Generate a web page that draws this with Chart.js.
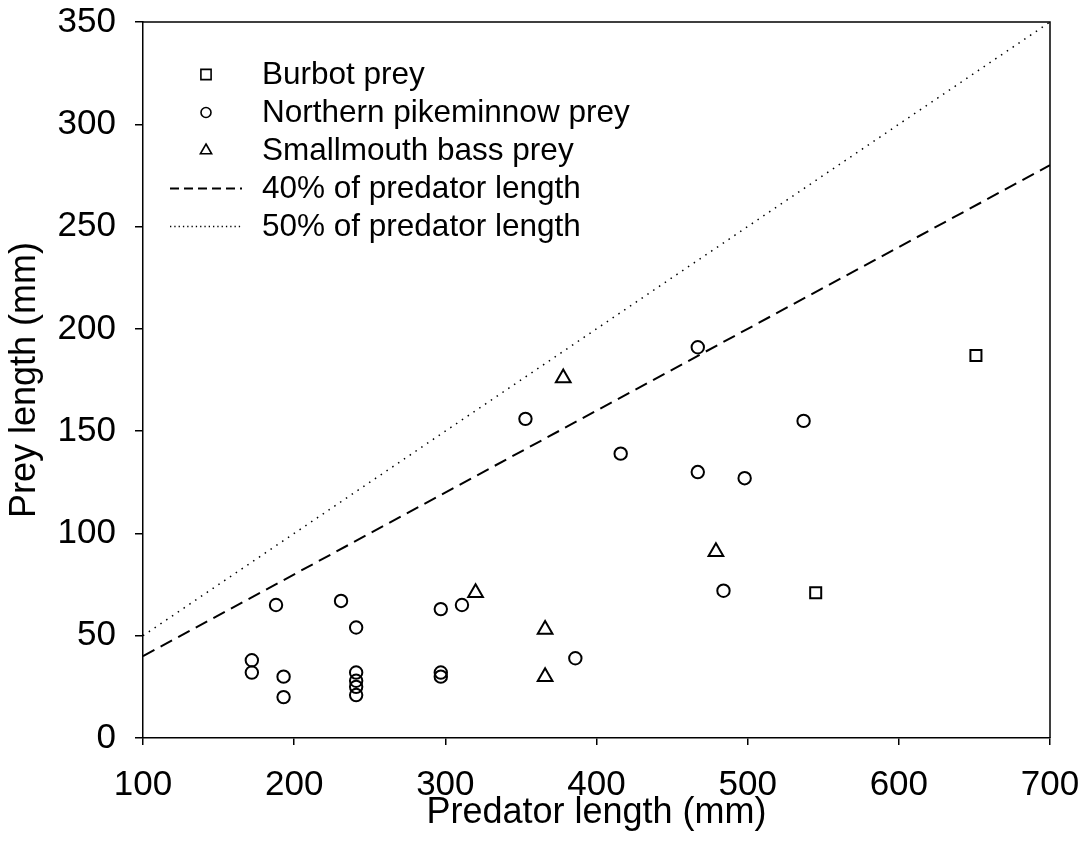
<!DOCTYPE html>
<html>
<head>
<meta charset="utf-8">
<script src="https://cdn.jsdelivr.net/npm/chart.js@4"></script>
<style>
  html, body { margin: 0; padding: 0; background: #fff; }
  canvas { display: block; }
</style>
</head>
<body>
<canvas id="chart" width="1084" height="859"></canvas>
<script>
// --- data ---
const burbotX = [545, 651];
const burbotY = [71, 187];

const pikeX = [172, 172, 188, 193, 193, 231, 241, 241, 241, 241, 241, 297, 297, 297, 311, 353, 386, 416, 467, 467, 484, 498, 537];
const pikeY = [32, 38, 65, 30, 20, 67, 54, 32, 28, 25, 21, 63, 32, 30, 65, 156, 39, 139, 191, 130, 72, 127, 155];

const bassX = [320, 366, 366, 378, 479];
const bassY = [71, 53, 30, 176, 91];

const refX = [100, 700];
const ref40 = [40, 280];
const ref50 = [50, 350];

const xTicks = [100, 200, 300, 400, 500, 600, 700];
const yTicks = [0, 50, 100, 150, 200, 250, 300, 350];

const FONT = "'Liberation Sans', Arial, sans-serif";

function pts(xs, ys) {
  return xs.map((x, i) => ({ x: x, y: ys[i] }));
}

// legend inside the plot + top/right frame
const framePlugin = {
  id: 'frame',
  afterDraw(chart) {
    const { ctx, chartArea: a } = chart;
    ctx.save();
    ctx.strokeStyle = '#000';
    ctx.lineWidth = 1.5;
    ctx.beginPath();
    ctx.moveTo(a.left, a.top);
    ctx.lineTo(a.right, a.top);
    ctx.lineTo(a.right, a.bottom);
    ctx.stroke();

    // legend
    const lx0 = a.left + 27, lx1 = a.left + 99, tx = a.left + 119;
    let y = a.top + 52.5;
    ctx.font = '31.5px ' + FONT;
    ctx.textBaseline = 'middle';
    chart.data.datasets.forEach(ds => {
      ctx.save();
      ctx.strokeStyle = '#000';
      ctx.fillStyle = 'rgba(0,0,0,0)';
      if (ds.showLine) {
        ctx.lineWidth = ds.legendWidth;
        ctx.setLineDash(ds.legendDash);
        ctx.beginPath();
        ctx.moveTo(lx0, y);
        ctx.lineTo(lx1, y);
        ctx.stroke();
      } else {
        ctx.lineWidth = 1.6;
        Chart.helpers.drawPoint(ctx, {
          pointStyle: ds.pointStyle,
          radius: ds.legendRadius,
          rotation: 0,
          borderWidth: 1.6
        }, (lx0 + lx1) / 2, y);
      }
      ctx.restore();
      ctx.fillStyle = '#000';
      ctx.fillText(ds.label, tx, y + 1);
      y += 38;
    });
    ctx.restore();
  }
};

const markerBase = {
  type: 'scatter',
  borderColor: '#000',
  backgroundColor: 'rgba(0,0,0,0)',
  borderWidth: 2,
  pointHoverRadius: 6
};

new Chart(document.getElementById('chart'), {
  type: 'scatter',
  data: {
    datasets: [
      Object.assign({}, markerBase, {
        label: 'Burbot prey',
        data: pts(burbotX, burbotY),
        pointStyle: 'rect',
        pointRadius: 7.8,
        legendRadius: 7.2
      }),
      Object.assign({}, markerBase, {
        label: 'Northern pikeminnow prey',
        data: pts(pikeX, pikeY),
        pointStyle: 'circle',
        pointRadius: 6.2,
        legendRadius: 5
      }),
      Object.assign({}, markerBase, {
        label: 'Smallmouth bass prey',
        data: pts(bassX, bassY),
        pointStyle: 'triangle',
        pointRadius: 8.5,
        legendRadius: 6.5
      }),
      {
        label: '40% of predator length',
        data: pts(refX, ref40),
        showLine: true,
        borderColor: '#000',
        borderWidth: 2,
        borderDash: [13, 7],
        pointRadius: 0,
        legendDash: [9, 5],
        legendWidth: 1.8
      },
      {
        label: '50% of predator length',
        data: pts(refX, ref50),
        showLine: true,
        borderColor: '#000',
        borderWidth: 1.5,
        borderDash: [1.5, 5.5],
        pointRadius: 0,
        legendDash: [1.3, 3],
        legendWidth: 1.3
      }
    ]
  },
  options: {
    responsive: false,
    animation: false,
    layout: { padding: { top: 22, right: 34, left: 0, bottom: 0 } },
    plugins: {
      legend: { display: false },
      tooltip: { enabled: false }
    },
    scales: {
      x: {
        type: 'linear',
        min: 100,
        max: 700,
        afterFit(scale) {
          scale.height = 121;
          scale.paddingLeft = 0;
          scale.paddingRight = 0;
        },
        afterBuildTicks(scale) { scale.ticks = xTicks.map(v => ({ value: v })); },
        grid: { drawOnChartArea: false, drawTicks: true, tickLength: 7, color: '#000', lineWidth: 1.5 },
        border: { display: true, color: '#000', width: 1.5 },
        ticks: { color: '#000', font: { family: FONT, size: 35 }, padding: 19, maxRotation: 0 },
        title: {
          display: true,
          text: 'Predator length (mm)',
          color: '#000',
          font: { family: FONT, size: 36 },
          padding: { top: 0, bottom: 24 }
        }
      },
      y: {
        type: 'linear',
        min: 0,
        max: 350,
        afterFit(scale) {
          scale.width = 143;
          scale.paddingTop = 0;
          scale.paddingBottom = 0;
        },
        afterBuildTicks(scale) { scale.ticks = yTicks.map(v => ({ value: v })); },
        grid: { drawOnChartArea: false, drawTicks: true, tickLength: 8, color: '#000', lineWidth: 1.5 },
        border: { display: true, color: '#000', width: 1.5 },
        ticks: { color: '#000', font: { family: FONT, size: 35 }, padding: 19 },
        title: {
          display: true,
          text: 'Prey length (mm)',
          color: '#000',
          font: { family: FONT, size: 36 },
          padding: { top: 3, bottom: 0 }
        }
      }
    }
  },
  plugins: [framePlugin]
});
</script>
</body>
</html>
